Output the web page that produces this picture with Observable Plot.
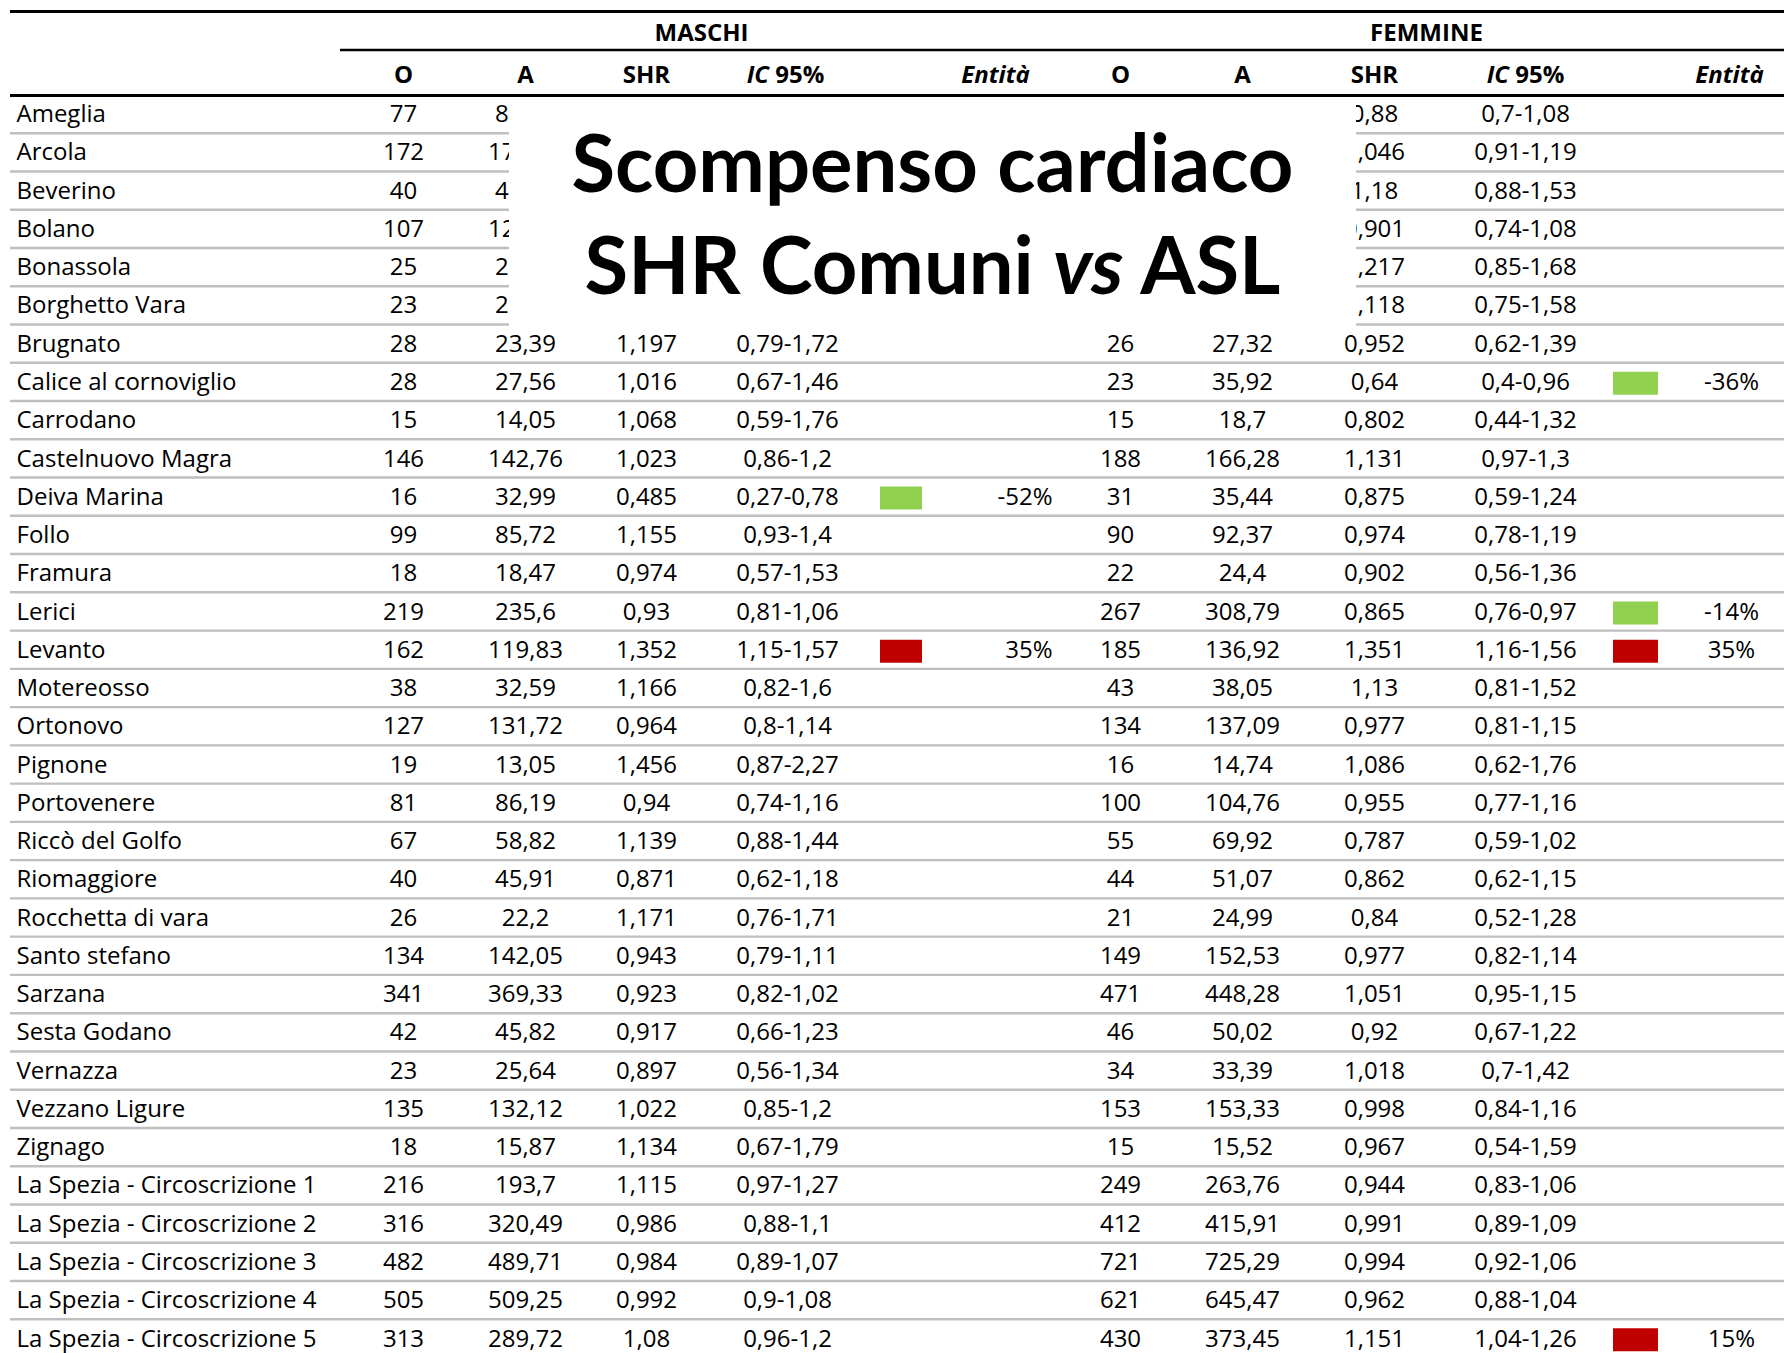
<!DOCTYPE html>
<html><head><meta charset="utf-8">
<script src="https://cdn.jsdelivr.net/npm/d3@7"></script>
<script src="https://cdn.jsdelivr.net/npm/@observablehq/plot@0.6"></script>
<style>body{margin:0;background:#fff;} svg{display:block;}</style>
</head><body><div id="chart"></div>
<script>
// ---- data ----
const comuni = ["Ameglia","Arcola","Beverino","Bolano","Bonassola","Borghetto Vara","Brugnato","Calice al cornoviglio","Carrodano","Castelnuovo Magra","Deiva Marina","Follo","Framura","Lerici","Levanto","Motereosso","Ortonovo","Pignone","Portovenere","Riccò del Golfo","Riomaggiore","Rocchetta di vara","Santo stefano","Sarzana","Sesta Godano","Vernazza","Vezzano Ligure","Zignago","La Spezia - Circoscrizione 1","La Spezia - Circoscrizione 2","La Spezia - Circoscrizione 3","La Spezia - Circoscrizione 4","La Spezia - Circoscrizione 5"];
// MASCHI (cells hidden under the title are null; A of the first six rows is only partly visible: estimated)
const mO   = [77,172,40,107,25,23,28,28,15,146,16,99,18,219,162,38,127,19,81,67,40,26,134,341,42,23,135,18,216,316,482,505,313];
const mA   = [84.52,171.64,43.25,121.37,23.18,22.76,23.39,27.56,14.05,142.76,32.99,85.72,18.47,235.6,119.83,32.59,131.72,13.05,86.19,58.82,45.91,22.2,142.05,369.33,45.82,25.64,132.12,15.87,193.7,320.49,489.71,509.25,289.72];
const mSHR = [null,null,null,null,null,null,1.197,1.016,1.068,1.023,0.485,1.155,0.974,0.93,1.352,1.166,0.964,1.456,0.94,1.139,0.871,1.171,0.943,0.923,0.917,0.897,1.022,1.134,1.115,0.986,0.984,0.992,1.08];
const mLo  = [null,null,null,null,null,null,0.79,0.67,0.59,0.86,0.27,0.93,0.57,0.81,1.15,0.82,0.8,0.87,0.74,0.88,0.62,0.76,0.79,0.82,0.66,0.56,0.85,0.67,0.97,0.88,0.89,0.9,0.96];
const mHi  = [null,null,null,null,null,null,1.72,1.46,1.76,1.2,0.78,1.4,1.53,1.06,1.57,1.6,1.14,2.27,1.16,1.44,1.18,1.71,1.11,1.02,1.23,1.34,1.2,1.79,1.27,1.1,1.07,1.08,1.2];
const mEnt = [null,null,null,null,null,null,null,null,null,null,-52,null,null,null,35,null,null,null,null,null,null,null,null,null,null,null,null,null,null,null,null,null,null];
// FEMMINE
const fO   = [null,null,null,null,null,null,26,23,15,188,31,90,22,267,185,43,134,16,100,55,44,21,149,471,46,34,153,15,249,412,721,621,430];
const fA   = [null,null,null,null,null,null,27.32,35.92,18.7,166.28,35.44,92.37,24.4,308.79,136.92,38.05,137.09,14.74,104.76,69.92,51.07,24.99,152.53,448.28,50.02,33.39,153.33,15.52,263.76,415.91,725.29,645.47,373.45];
const fSHR = [0.88,1.046,1.18,0.901,1.217,1.118,0.952,0.64,0.802,1.131,0.875,0.974,0.902,0.865,1.351,1.13,0.977,1.086,0.955,0.787,0.862,0.84,0.977,1.051,0.92,1.018,0.998,0.967,0.944,0.991,0.994,0.962,1.151];
const fLo  = [0.7,0.91,0.88,0.74,0.85,0.75,0.62,0.4,0.44,0.97,0.59,0.78,0.56,0.76,1.16,0.81,0.81,0.62,0.77,0.59,0.62,0.52,0.82,0.95,0.67,0.7,0.84,0.54,0.83,0.89,0.92,0.88,1.04];
const fHi  = [1.08,1.19,1.53,1.08,1.68,1.58,1.39,0.96,1.32,1.3,1.24,1.19,1.36,0.97,1.56,1.52,1.15,1.76,1.16,1.02,1.15,1.28,1.14,1.15,1.22,1.42,1.16,1.59,1.06,1.09,1.06,1.04,1.26];
const fEnt = [null,null,null,null,null,null,null,-36,null,null,null,null,null,-14,35,null,null,null,null,null,null,null,null,null,null,null,null,null,null,null,null,null,15];
const groupLabels = ["MASCHI","FEMMINE"];
const colLabels = ["O","A","SHR","IC 95%","Entità"];
const titleLines = ["Scompenso cardiaco","SHR Comuni vs ASL"];

// ---- layout ----
const W = 1784, H = 1353;
const rowTop = 117.5, pitch = 38.26, textDy = -3.5;
const col = {name:16, mO:403, mA:525, mSHR:646, mIC:787, mSq:[880,922], mEnt:1052,
             fO:1120, fA:1242, fSHR:1374, fIC:1525, fSq:[1613,1658], fEnt:1731,
             hEntM:995, hEntF:1729, grpM:701, grpF:1426, grpLineX:340, lineX:10,
             box:[509,1356], title:932};
const FS = 24, FONT = "'Open Sans', Lato, sans-serif", TFONT = "Lato, 'Open Sans', sans-serif";
const green = "#92d050", red = "#c00000", gray = "#bfbfbf";

const fmt = v => v == null ? null : String(v).replace(".", ",");
const ic = (lo, hi) => lo == null ? null : fmt(lo) + "-" + fmt(hi);
const rows = comuni.map((name, i) => ({
  name, mO: mO[i], mA: mA[i], mSHR: mSHR[i], mIC: ic(mLo[i], mHi[i]), mEnt: mEnt[i],
  fO: fO[i], fA: fA[i], fSHR: fSHR[i], fIC: ic(fLo[i], fHi[i]), fEnt: fEnt[i]
}));
const first = comuni[0];

const txt = (key, x, anchor) =>
  Plot.text(rows.filter(d => d[key] != null), {x: () => x, y: "name", text: d => fmt(d[key]), dy: textDy, textAnchor: anchor, lineAnchor: "middle", fontSize: FS, fill: "black"});

const hdr = (label, x, anchor, dyPx, opts = {}) =>
  Plot.text([label], {x: () => x, y: () => first, text: d => d, dy: dyPx, textAnchor: anchor, lineAnchor: "middle",
    fontSize: FS, fontWeight: 700, fill: "black", ...opts});

const entFmt = v => v + "%";

const chart = Plot.plot({
  width: W, height: H,
  marginTop: 0, marginRight: 0, marginBottom: 0, marginLeft: 0,
  x: {type: "linear", domain: [0, W], range: [0, W], axis: null},
  y: {type: "point", domain: comuni, range: [rowTop, rowTop + pitch * (comuni.length - 1)], padding: 0, round: false, axis: null},
  style: {fontFamily: FONT, background: "white", color: "black"},
  marks: [
    // row separators
    Plot.ruleY(comuni, {y: d => d, x1: () => col.lineX, x2: () => W, dy: 15.2, stroke: gray, strokeWidth: 2.4}),
    // header rules
    Plot.ruleY([first], {y: d => d, x1: () => col.lineX, x2: () => W, dy: -106.5, stroke: "black", strokeWidth: 3.2}),
    Plot.ruleY([first], {y: d => d, x1: () => col.grpLineX, x2: () => W, dy: -68, stroke: "black", strokeWidth: 2.6}),
    Plot.ruleY([first], {y: d => d, x1: () => col.lineX, x2: () => W, dy: -22.5, stroke: "black", strokeWidth: 3.2}),
    // group headers
    hdr(groupLabels[0], col.grpM, "middle", -84.2),
    hdr(groupLabels[1], col.grpF, "middle", -84.2),
    // column headers
    hdr(colLabels[0], col.mO, "middle", -42.5),
    hdr(colLabels[1], col.mA, "middle", -42.5),
    hdr(colLabels[2], col.mSHR, "middle", -42.5),
    hdr(colLabels[3], col.mIC - 2, "middle", -42.5),
    hdr(colLabels[4], col.hEntM, "middle", -42.5, {fontStyle: "italic"}),
    hdr(colLabels[0], col.fO, "middle", -42.5),
    hdr(colLabels[1], col.fA, "middle", -42.5),
    hdr(colLabels[2], col.fSHR, "middle", -42.5),
    hdr(colLabels[3], col.fIC, "middle", -42.5),
    hdr(colLabels[4], col.hEntF, "middle", -42.5, {fontStyle: "italic"}),
    // body
    Plot.text(rows, {x: () => col.name, y: "name", text: "name", dy: textDy, textAnchor: "start", lineAnchor: "middle", fontSize: FS, fill: "black"}),
    txt("mO", col.mO, "middle"),
    txt("mA", col.mA, "middle"),
    txt("mSHR", col.mSHR, "middle"),
    txt("mIC", col.mIC, "middle"),
    Plot.ruleY(rows.filter(d => d.mEnt < 0), {y: "name", x1: () => col.mSq[0], x2: () => col.mSq[1], dy: -2.5, stroke: green, strokeWidth: 23}),
    Plot.ruleY(rows.filter(d => d.mEnt > 0), {y: "name", x1: () => col.mSq[0], x2: () => col.mSq[1], dy: -2.5, stroke: red, strokeWidth: 23}),
    Plot.text(rows.filter(d => d.mEnt != null), {x: () => col.mEnt, y: "name", text: d => entFmt(d.mEnt), dy: textDy, textAnchor: "end", lineAnchor: "middle", fontSize: FS, fill: "black"}),
    txt("fO", col.fO, "middle"),
    txt("fA", col.fA, "middle"),
    txt("fSHR", col.fSHR, "middle"),
    txt("fIC", col.fIC, "middle"),
    Plot.ruleY(rows.filter(d => d.fEnt < 0), {y: "name", x1: () => col.fSq[0], x2: () => col.fSq[1], dy: -2.5, stroke: green, strokeWidth: 23}),
    Plot.ruleY(rows.filter(d => d.fEnt > 0), {y: "name", x1: () => col.fSq[0], x2: () => col.fSq[1], dy: -2.5, stroke: red, strokeWidth: 23}),
    Plot.text(rows.filter(d => d.fEnt != null), {x: () => col.fEnt, y: "name", text: d => entFmt(d.fEnt), dy: textDy, textAnchor: "middle", lineAnchor: "middle", fontSize: FS, fill: "black"}),
    // title panel covering part of the table
    Plot.rect([0], {x1: () => col.box[0], x2: () => col.box[1], y1: () => comuni[0], y2: () => comuni[5], insetTop: -20.5, insetBottom: -18.2, fill: "white"}),
    Plot.text([titleLines[0]], {x: () => col.title, y: () => first, text: d => d, dy: 48.8, textAnchor: "middle", lineAnchor: "middle", fontFamily: TFONT, fontSize: 79.5, fontWeight: 700, fill: "black"}),
    Plot.text([titleLines[1]], {x: () => col.title, y: () => first, text: d => d, dy: 150.4, textAnchor: "middle", lineAnchor: "middle", fontFamily: TFONT, fontSize: 79.5, fontWeight: 700, fill: "black"})
  ]
});

// mixed styles inside a single label: italic "IC" and italic "vs"
d3.select(chart).selectAll("text").each(function() {
  const t = this.textContent;
  const split = (parts) => {
    this.textContent = "";
    for (const [s, it] of parts) {
      const ts = document.createElementNS("http://www.w3.org/2000/svg", "tspan");
      ts.textContent = s;
      if (it) ts.setAttribute("font-style", "italic");
      this.appendChild(ts);
    }
  };
  if (t === "IC 95%") split([["IC", true], [" 95%", false]]);
  else if (t === "SHR Comuni vs ASL") split([["SHR Comuni ", false], ["vs", true], [" ASL", false]]);
});

document.getElementById("chart").appendChild(chart);
</script>
</body></html>
